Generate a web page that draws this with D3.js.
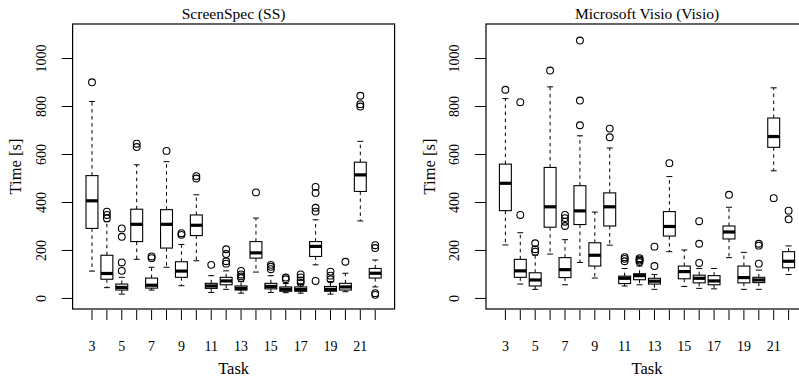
<!DOCTYPE html>
<html>
<head>
<meta charset="utf-8">
<script src="https://cdn.jsdelivr.net/npm/d3@7"></script>
<style>
  html, body { margin: 0; padding: 0; background: #fff; }
  svg { display: block; }
  text { font-family: "Liberation Serif", "Times New Roman", serif; fill: #000; }
</style>
</head>
<body>
<svg id="chart" width="799" height="381"></svg>
<script>
// ---- Data ----
const tasks = [3,4,5,6,7,8,9,10,11,12,13,14,15,16,17,18,19,20,21,22];
const tickLabels = ["3","5","7","9","11","13","15","17","19","21"];
const yTicks = [0, 200, 400, 600, 800, 1000];
const panelTitles = ["ScreenSpec (SS)", "Microsoft Visio (Visio)"];

// ScreenSpec (SS)
const ssMin = [114, 45, 18, 163, 35, 130, 53, 157, 25, 38, 22, 110, 25, 24, 22, 140, 18, 28, 323, 48];
const ssQ1  = [292, 80, 35, 237, 43, 210, 88, 262, 42, 57, 35, 168, 40, 30, 30, 175, 30, 35, 446, 85];
const ssMed = [407, 104, 46, 309, 55, 309, 114, 305, 52, 73, 42, 190, 50, 38, 37, 217, 38, 48, 515, 105];
const ssQ3  = [512, 180, 60, 372, 85, 370, 153, 348, 63, 88, 52, 237, 63, 48, 48, 237, 50, 63, 568, 125];
const ssMax = [821, 320, 88, 557, 130, 570, 225, 432, 95, 115, 70, 335, 95, 62, 58, 328, 70, 105, 655, 160];
const ssOut = [[901], [334, 348, 362], [115, 150, 257, 292], [631, 645], [168, 175], [615],
               [265, 272], [500, 510], [140], [145, 155, 185, 205], [85, 92, 100, 115], [442],
               [122, 132, 140], [80, 87], [65, 75, 88, 100], [73, 362, 378, 440, 465],
               [80, 95, 112], [153], [800, 810, 845], [15, 22, 210, 222]];

// Microsoft Visio (Visio)
const vMin = [223, 60, 38, 185, 57, 150, 85, 222, 52, 57, 38, 195, 50, 42, 40, 170, 38, 38, 532, 100];
const vQ1  = [366, 88, 52, 297, 87, 308, 135, 302, 62, 78, 60, 260, 82, 65, 57, 248, 65, 66, 630, 128];
const vMed = [480, 115, 77, 382, 120, 365, 180, 382, 84, 95, 72, 300, 112, 84, 73, 277, 87, 77, 675, 155];
const vQ3  = [560, 163, 107, 546, 170, 470, 232, 440, 93, 103, 84, 362, 135, 97, 95, 302, 135, 88, 752, 195];
const vMax = [833, 274, 180, 882, 245, 678, 360, 627, 125, 135, 100, 508, 202, 125, 125, 380, 192, 118, 878, 219];
const vOut = [[870], [348, 818], [195, 205, 230], [950], [302, 320, 335, 348], [722, 825, 1075],
              [], [672, 708], [155, 165, 172], [152, 158, 163, 168], [135, 216], [564],
              [], [148, 228, 322], [], [432], [], [145, 220, 228], [418], [330, 366]];

// ---- Drawing ----
const svg = d3.select("#chart");
const plotTop = 24, plotBottom = 309;
const y = d3.scaleLinear().domain([-44, 1144]).range([plotBottom, plotTop]);

const panels = [
  {left: 72.6, right: 394.6, title: panelTitles[0],
   mins: ssMin, q1: ssQ1, med: ssMed, q3: ssQ3, maxs: ssMax, outs: ssOut},
  {left: 486, right: 808, title: panelTitles[1],
   mins: vMin, q1: vQ1, med: vMed, q3: vQ3, maxs: vMax, outs: vOut}
];

panels.forEach(p => {
  const g = svg.append("g");
  const x = d3.scaleLinear().domain([tasks[0] - 1.3, tasks[tasks.length - 1] + 1.3]).range([p.left, p.right]);
  const unit = x(tasks[1]) - x(tasks[0]);
  const bw = 0.8 * unit;
  const sw = bw / 2;

  g.append("rect")
    .attr("x", p.left).attr("y", plotTop)
    .attr("width", p.right - p.left).attr("height", plotBottom - plotTop)
    .attr("fill", "none").attr("stroke", "#000").attr("stroke-width", 1.2);

  g.append("text")
    .attr("x", (p.left + p.right) / 2).attr("y", 19)
    .attr("text-anchor", "middle").attr("font-size", 15.5).attr("fill", "#000")
    .text(p.title);

  const yAxis = g.append("g");
  yTicks.forEach(t => {
    yAxis.append("line")
      .attr("x1", p.left - 11).attr("x2", p.left)
      .attr("y1", y(t)).attr("y2", y(t))
      .attr("stroke", "#000").attr("stroke-width", 1);
    yAxis.append("text")
      .attr("transform", `translate(${p.left - 32},${y(t)}) rotate(-90)`)
      .attr("text-anchor", "middle").attr("dy", "0.35em")
      .attr("font-size", 14).attr("fill", "#000")
      .text(t);
  });
  g.append("text")
    .attr("transform", `translate(${p.left - 57},${(plotTop + plotBottom) / 2}) rotate(-90)`)
    .attr("text-anchor", "middle").attr("dy", "0.35em")
    .attr("font-size", 16.5).attr("fill", "#000")
    .text("Time [s]");

  tasks.forEach(t => {
    g.append("line")
      .attr("x1", x(t)).attr("x2", x(t))
      .attr("y1", plotBottom + 1).attr("y2", plotBottom + 11)
      .attr("stroke", "#000").attr("stroke-width", 1);
  });
  tickLabels.forEach(lbl => {
    g.append("text")
      .attr("x", x(+lbl)).attr("y", 351)
      .attr("text-anchor", "middle").attr("font-size", 14).attr("fill", "#000")
      .text(lbl);
  });
  g.append("text")
    .attr("x", (p.left + p.right) / 2).attr("y", 374)
    .attr("text-anchor", "middle").attr("font-size", 16.5).attr("fill", "#000")
    .text("Task");

  tasks.forEach((t, i) => {
    const cx = x(t);
    const bg = g.append("g");
    bg.append("line")
      .attr("x1", cx).attr("x2", cx)
      .attr("y1", y(p.q3[i])).attr("y2", y(p.maxs[i]))
      .attr("stroke", "#000").attr("stroke-dasharray", "3.5,3.5");
    bg.append("line")
      .attr("x1", cx).attr("x2", cx)
      .attr("y1", y(p.q1[i])).attr("y2", y(p.mins[i]))
      .attr("stroke", "#000").attr("stroke-dasharray", "3.5,3.5");
    [p.maxs[i], p.mins[i]].forEach(v => {
      bg.append("line")
        .attr("x1", cx - sw / 2).attr("x2", cx + sw / 2)
        .attr("y1", y(v)).attr("y2", y(v))
        .attr("stroke", "#000").attr("stroke-width", 1);
    });
    bg.append("rect")
      .attr("x", cx - bw / 2).attr("y", y(p.q3[i]))
      .attr("width", bw).attr("height", y(p.q1[i]) - y(p.q3[i]))
      .attr("fill", "#fff").attr("stroke", "#000").attr("stroke-width", 1.1);
    bg.append("line")
      .attr("x1", cx - bw / 2).attr("x2", cx + bw / 2)
      .attr("y1", y(p.med[i])).attr("y2", y(p.med[i]))
      .attr("stroke", "#000").attr("stroke-width", 3.2);
    p.outs[i].forEach(v => {
      bg.append("circle")
        .attr("cx", cx).attr("cy", y(v)).attr("r", 3.4)
        .attr("fill", "none").attr("stroke", "#000").attr("stroke-width", 1.1);
    });
  });
});
</script>
</body>
</html>
